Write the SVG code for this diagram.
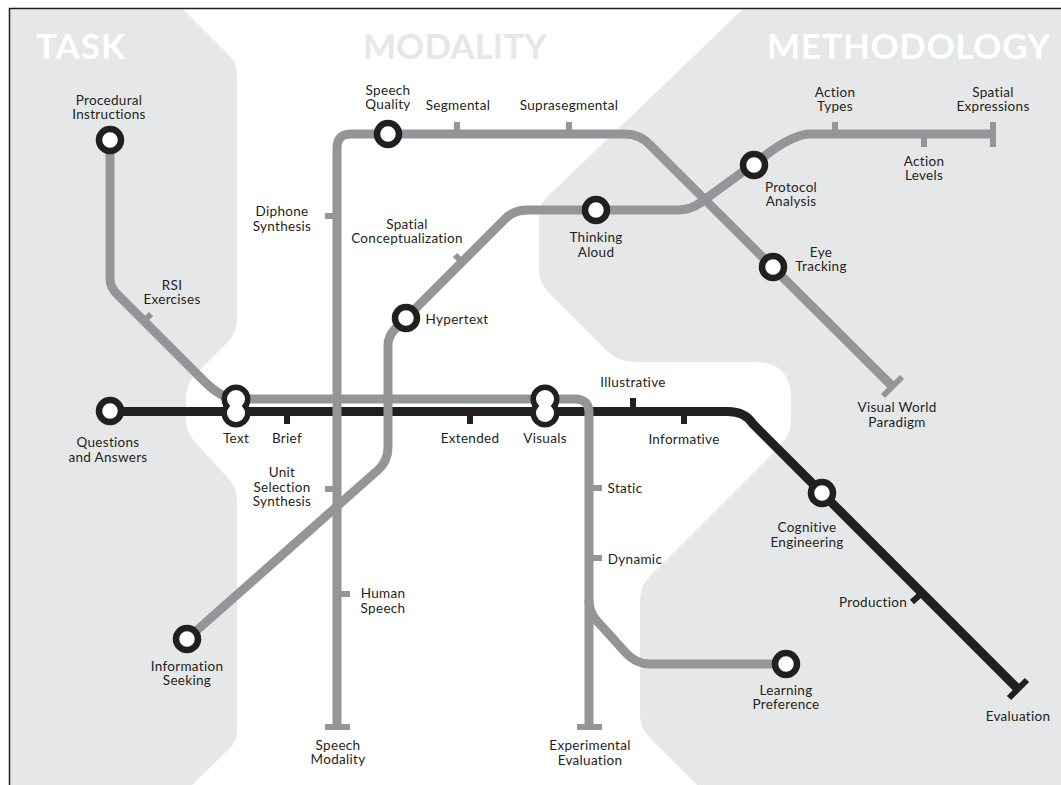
<svg xmlns="http://www.w3.org/2000/svg" width="1061" height="785" viewBox="0 0 1061 785">
<style>
.z{fill:#e6e7e8}
.l{fill:none;stroke-width:9}
.g{stroke:#939598}
.k{stroke:#231f20}
.t{fill:none;stroke-width:6}
.s{fill:#fff;stroke:#231f20;stroke-width:6.5}
.d{fill:#231f20}
.w{fill:#fff}
text{font-family:"Lato","Liberation Sans",sans-serif}
.n{font-size:13.5px;fill:#231f20;text-anchor:middle;letter-spacing:.3px}
.h{font-size:35px;font-weight:700}
</style>
<rect width="1061" height="785" fill="#fff"/>
<g id="zones">
<path class="z" d="M10 9H183L228 54Q237 63 237 75V318Q237 332 228 342L194 376Q186 385 186 398V420Q186 431 194 441L228 478Q237 488 237 500V733Q237 742 228 750L192 785H10Z"/>
<path class="z" d="M743 9H1061V785H697L650 738Q640 728 640 715V600Q640 586 650 576L780 446Q791 435 791 422V398Q791 362 755 362H635Q618 362 606 350L549 293Q539 283 539 270V215Q539 205 547 197Z"/>
</g>
<path d="M9.500 785V8.500H1061" fill="none" stroke="#231f20" stroke-width="1.500"/>
<text class="h w" x="36" y="59" textLength="89">TASK</text>
<text class="h" x="363" y="59" fill="#e6e7e8" textLength="184">MODALITY</text>
<text class="h w" x="767" y="59" textLength="283">METHODOLOGY</text>
<g id="connectors">
<path class="l k" d="M110 411.500H728Q745 411.500 753 424L1018 689"/>
<path class="t k" d="M287 411V424M470 411V424M633 411V398M684 411V424M922 593L912 602M1009 698L1027 680"/>
<path class="l g" d="M110 140V278Q110 288 118 295L205 382Q218 395 232 399H575Q589 399 589 413V727"/>
<path class="l g" d="M589 600Q589 612 597 621L626 653Q636 664 650 664H786"/>
<path class="l g" d="M337 727V148Q337 134 351 134H625Q640 134 650 145L892 386"/>
<path class="l g" d="M187 639L378 470Q388 461 388 447V345Q388 336 396 328L506 218Q514 210 528 210H678Q690 210 700 203L770 152Q795 134 810 134H993"/>
<path class="t g" d="M457 122V134M569 122V134M325 216H337M325 489H337M337 594H350M589 488H602M589 558H602M143 322L151 314M464 264L455 255M835 122V134M924 134V147M993 122V147M325 727H350M577 727H602M883 396L902 377"/>
</g>
<g id="Procedural-Instructions"><circle class="s" cx="110" cy="140" r="11"/><text class="n" x="109" y="105">Procedural</text><text class="n" x="109" y="119">Instructions</text></g>
<g id="Speech-Quality"><circle class="s" cx="388" cy="134" r="11"/><text class="n" x="388" y="95">Speech</text><text class="n" x="388" y="109">Quality</text></g>
<g id="Thinking-Aloud"><circle class="s" cx="596" cy="210" r="11"/><text class="n" x="596" y="242">Thinking</text><text class="n" x="596" y="257">Aloud</text></g>
<g id="Protocol-Analysis"><circle class="s" cx="754" cy="165" r="11"/><text class="n" x="791" y="192">Protocol</text><text class="n" x="791" y="206">Analysis</text></g>
<g id="Eye-Tracking"><circle class="s" cx="773" cy="267" r="11"/><text class="n" x="821" y="257">Eye</text><text class="n" x="821" y="271">Tracking</text></g>
<g id="Hypertext"><circle class="s" cx="406" cy="318" r="11"/><text class="n" x="457" y="324">Hypertext</text></g>
<g id="Cognitive-Engineering"><circle class="s" cx="822" cy="493" r="11"/><text class="n" x="807" y="532">Cognitive</text><text class="n" x="807" y="547">Engineering</text></g>
<g id="Information-Seeking"><circle class="s" cx="187" cy="639" r="11"/><text class="n" x="187" y="671">Information</text><text class="n" x="187" y="685">Seeking</text></g>
<g id="Learning-Preference"><circle class="s" cx="786" cy="664" r="11"/><text class="n" x="786" y="695">Learning</text><text class="n" x="786" y="709">Preference</text></g>
<g id="Questions-and-Answers"><circle class="s" cx="110" cy="411" r="11"/><text class="n" x="108" y="447">Questions</text><text class="n" x="108" y="462">and Answers</text></g>
<g id="Text"><circle class="d" cx="236" cy="399" r="14.500"/><circle class="d" cx="236" cy="413" r="14.500"/><circle class="w" cx="236" cy="399" r="9"/><circle class="w" cx="236" cy="413" r="9"/><text class="n" x="236" y="443">Text</text></g>
<g id="Visuals"><circle class="d" cx="545" cy="399" r="14.500"/><circle class="d" cx="545" cy="413" r="14.500"/><circle class="w" cx="545" cy="399" r="9"/><circle class="w" cx="545" cy="413" r="9"/><text class="n" x="545" y="443">Visuals</text></g>
<g id="labels">
<text class="n" x="458" y="110">Segmental</text>
<text class="n" x="569" y="110">Suprasegmental</text>
<text class="n" x="282" y="216">Diphone</text><text class="n" x="282" y="231">Synthesis</text>
<text class="n" x="407" y="229">Spatial</text><text class="n" x="407" y="243">Conceptualization</text>
<text class="n" x="835" y="97">Action</text><text class="n" x="835" y="111">Types</text>
<text class="n" x="993" y="97">Spatial</text><text class="n" x="993" y="111">Expressions</text>
<text class="n" x="924" y="166">Action</text><text class="n" x="924" y="180">Levels</text>
<text class="n" x="172" y="290">RSI</text><text class="n" x="172" y="304">Exercises</text>
<text class="n" x="633" y="387">Illustrative</text>
<text class="n" x="684" y="444">Informative</text>
<text class="n" x="287" y="443">Brief</text>
<text class="n" x="470" y="443">Extended</text>
<text class="n" x="282" y="477">Unit</text><text class="n" x="282" y="492">Selection</text><text class="n" x="282" y="506">Synthesis</text>
<text class="n" x="625" y="493">Static</text>
<text class="n" x="635" y="564">Dynamic</text>
<text class="n" x="873" y="607">Production</text>
<text class="n" x="1018" y="721">Evaluation</text>
<text class="n" x="897" y="412">Visual World</text><text class="n" x="897" y="427">Paradigm</text>
<text class="n" x="383" y="598">Human</text><text class="n" x="383" y="613">Speech</text>
<text class="n" x="338" y="750">Speech</text><text class="n" x="338" y="764">Modality</text>
<text class="n" x="590" y="750">Experimental</text><text class="n" x="590" y="765">Evaluation</text>
</g>
</svg>
